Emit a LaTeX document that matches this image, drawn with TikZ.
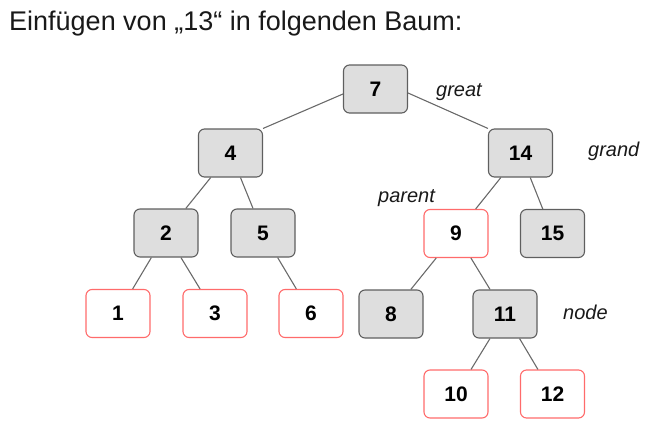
\documentclass[tikz,border=0pt]{standalone}
\usepackage{fontspec}
\setmainfont{Liberation Sans}
\definecolor{boxfill}{HTML}{DEDEDE}
\definecolor{boxline}{HTML}{5F5F5F}
\definecolor{redline}{HTML}{FF6B6B}
\definecolor{edgecol}{HTML}{6A6A6A}
\begin{document}
\begin{tikzpicture}[x=1pt,y=-1pt,
  base/.style={rounded corners=6pt, minimum width=64pt, minimum height=48pt, inner sep=0pt,
    font=\fontsize{21}{24}\selectfont\bfseries, text=black, line width=1.1pt},
  graybox/.style={base, draw=boxline, fill=boxfill},
  redbox/.style={base, draw=redline, fill=white},
  edge/.style={draw=edgecol, line width=1.1pt},
  lbl/.style={anchor=base west, inner sep=0pt, font=\fontsize{20}{24}\selectfont\itshape, text=black!90}]
\useasboundingbox (0,0) rectangle (655,431);
\node[anchor=base west, inner sep=0pt, font=\fontsize{27}{32}\selectfont, text=black!90] (title) at (9,30) {Einfügen von „13“ in folgenden Baum:};

\node[graybox] (n7) at (375.5,89) {7};
\node[graybox] (n4) at (230.5,153) {4};
\node[graybox] (n14) at (520.5,153) {14};
\node[graybox] (n2) at (166,233) {2};
\node[graybox] (n5) at (263,233) {5};
\node[redbox] (n9) at (456,233.5) {9};
\node[graybox] (n15) at (552.5,233.5) {15};
\node[redbox] (n1) at (118,313.5) {1};
\node[redbox] (n3) at (215,313.5) {3};
\node[redbox] (n6) at (311,313.5) {6};
\node[graybox] (n8) at (391,314) {8};
\node[graybox] (n11) at (505,314) {11};
\node[redbox] (n10) at (456,394) {10};
\node[redbox] (n12) at (552.5,394) {12};

\node[lbl] (lgreat) at (436,96) {great};
\node[lbl] (lgrand) at (588,156) {grand};
\node[lbl] (lparent) at (378,202) {parent};
\node[lbl] (lnode) at (563,319) {node};

\draw[edge] ([yshift=-5pt]n7.west) -- (n4.north east);
\draw[edge] ([yshift=-4pt]n7.east) -- (n14.north west);
\draw[edge] (n4) -- (n2);
\draw[edge] (n4) -- (n5);
\draw[edge] (n14) -- (n9);
\draw[edge] (n14) -- (n15);
\draw[edge] (n2) -- (n1);
\draw[edge] (n2) -- (n3);
\draw[edge] (n5) -- (n6);
\draw[edge] (n9) -- (n8);
\draw[edge] (n9) -- (n11);
\draw[edge] (n11) -- (n10);
\draw[edge] (n11) -- (n12);
\end{tikzpicture}
\end{document}
